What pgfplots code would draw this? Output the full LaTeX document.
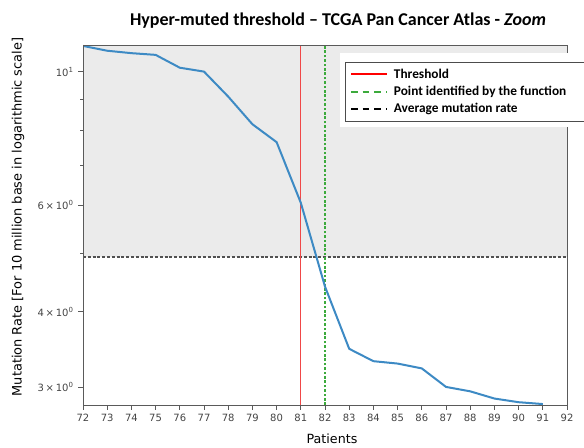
\documentclass[border=0pt]{standalone}
\usepackage{pgfplots}
\pgfplotsset{compat=1.18}
\usepackage{fontspec}
\setmainfont{DejaVu Sans}
\newfontfamily\carlito{Carlito}

\definecolor{lineblue}{HTML}{3D8AC4}
\definecolor{shade}{HTML}{EBEBEB}
\definecolor{thrred}{HTML}{F04848}
\definecolor{ptgreen}{HTML}{3CAA3C}
\definecolor{avggray}{HTML}{505050}
\definecolor{frame}{HTML}{5A5A5A}
\definecolor{ticktext}{HTML}{444444}

\pgfplotstableread{
x y
72 11.03
73 10.83
74 10.73
75 10.66
76 10.15
77 10.00
78 9.09
79 8.18
80 7.64
81 6.06
82 4.40
83 3.47
84 3.31
85 3.28
86 3.22
87 3.00
88 2.95
89 2.87
90 2.83
91 2.81
}\ratetable

\begin{document}
\begin{tikzpicture}
% page area: 584 x 448 px at 0.75pt per px
\useasboundingbox (-62.25pt,-32.25pt) rectangle (375.75pt,303.75pt);
\begin{axis}[
  at={(0,0)}, anchor=south west,
  scale only axis,
  width=363pt, height=270pt,
  xmin=72, xmax=92, ymin=2.80, ymax=11.07,
  ymode=log,
  xtick={72,73,...,92},
  ytick={3,4,6,10},
  yticklabels={3\,×\,10\textsuperscript{0},4\,×\,10\textsuperscript{0},6\,×\,10\textsuperscript{0},10\textsuperscript{1}},
  minor ytick={5,7,8,9},
  xtick pos=left, ytick pos=left,
  tick align=outside,
  major tick length=3.5pt, minor tick length=2pt,
  tick style={frame, line width=0.6pt},
  axis line style={frame, line width=0.7pt},
  ticklabel style={font=\fontsize{7.5}{9}\selectfont, text=ticktext},
  /pgf/number format/assume math mode=true,
  log ticks with fixed point,
  axis on top,
]
% region above the average mutation rate
\addplot[fill=shade, draw=none] coordinates {(72,4.92) (92,4.92) (92,11.07) (72,11.07)} -- cycle;
\addplot[avggray, line width=1.3pt, dash pattern=on 2.3pt off 1.3pt] coordinates {(72,4.92) (92,4.92)};
\addplot[thrred, line width=0.8pt] coordinates {(81,2.80) (81,11.07)};
\addplot[ptgreen, line width=1pt, dash pattern=on 2pt off 1.3pt] coordinates {(82,2.80) (82,11.07)};
\addplot[lineblue, line width=1.5pt, line join=round] table[x=x, y=y] {\ratetable};
\end{axis}

% title and axis labels
\node[font=\carlito\bfseries\fontsize{13.5}{16}\selectfont] at (191.25pt,288pt)
  {Hyper-muted threshold – TCGA Pan Cancer Atlas - \textit{Zoom}};
\node[font=\fontsize{9.5}{11}\selectfont] at (186.75pt,-25.5pt) {Patients};
\node[font=\fontsize{9.7}{11}\selectfont, rotate=90] at (-48.75pt,141pt)
  {Mutation Rate [For 10 million base in logarithmic scale]};

% legend
\fill[white] (192.75pt,208.5pt) rectangle (380pt,264pt);
\draw[black!70, line width=0.6pt] (385pt,257.25pt) -- (196.5pt,257.25pt) -- (196.5pt,213pt) -- (385pt,213pt);
\draw[red, line width=0.8pt] (201pt,248.25pt) -- (228pt,248.25pt);
\draw[ptgreen, line width=0.8pt, dash pattern=on 5pt off 3.8pt] (201pt,234.75pt) -- (228pt,234.75pt);
\draw[black, line width=0.8pt, dash pattern=on 5pt off 3.8pt] (201pt,222pt) -- (228pt,222pt);
\begin{scope}[every node/.style={anchor=west, inner sep=0pt, font=\carlito\bfseries\fontsize{10}{12}\selectfont}]
\node at (233pt,248.25pt) {Threshold};
\node at (233pt,234.75pt) {Point identified by the function};
\node at (233pt,222pt) {Average mutation rate};
\end{scope}
\end{tikzpicture}
\end{document}
